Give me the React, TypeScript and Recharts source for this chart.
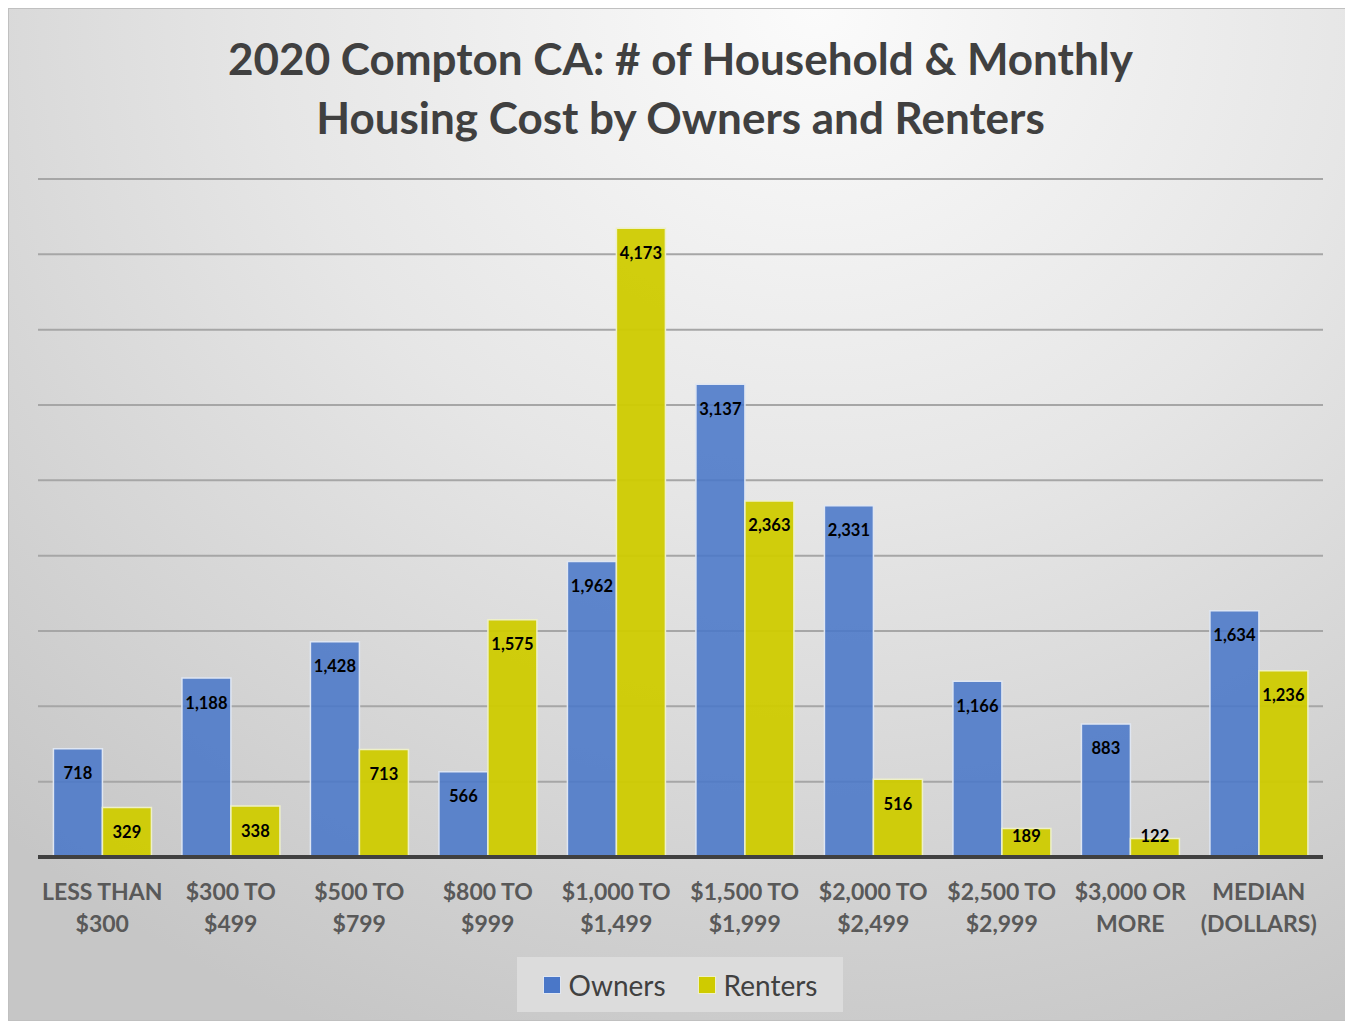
import { BarChart, Bar, XAxis, YAxis, CartesianGrid, LabelList, ReferenceLine } from "recharts";

const categories = [
  "LESS THAN|$300",
  "$300 TO|$499",
  "$500 TO|$799",
  "$800 TO|$999",
  "$1,000 TO|$1,499",
  "$1,500 TO|$1,999",
  "$2,000 TO|$2,499",
  "$2,500 TO|$2,999",
  "$3,000 OR|MORE",
  "MEDIAN|(DOLLARS)",
];
const owners = [718, 1188, 1428, 566, 1962, 3137, 2331, 1166, 883, 1634];
const renters = [329, 338, 713, 1575, 4173, 2363, 516, 189, 122, 1236];
const yTicks = [0, 500, 1000, 1500, 2000, 2500, 3000, 3500, 4000, 4500];

const data = categories.map((c, i) => ({ name: c, owners: owners[i], renters: renters[i] }));

const FONT = "Lato, 'Open Sans', sans-serif";
const OWNER_COLOR = "#4a77c8";
const RENTER_COLOR = "#cfcb00";

// inside-end label, pushed up when the bar is too short to hold it
const ValueLabel = (props: any) => {
  const { x, y, width, height, value } = props;
  const ly = Math.min(y + 24.5, y + height - 21);
  return (
    <text
      x={x + width / 2}
      y={ly}
      textAnchor="middle"
      dominantBaseline="central"
      fontSize={16.5}
      fontWeight="bold"
      fontFamily={FONT}
      fill="#000"
    >
      {value.toLocaleString("en-US")}
    </text>
  );
};

const CategoryTick = (props: any) => {
  const { x, y, payload } = props;
  const lines = String(payload.value).split("|");
  return (
    <g>
      {lines.map((l, i) => (
        <text
          key={i}
          x={x}
          y={y + 26 + i * 32}
          textAnchor="middle"
          dominantBaseline="central"
          fontSize={23}
          fontWeight="bold"
          fontFamily={FONT}
          fill="#595959"
        >
          {l}
        </text>
      ))}
    </g>
  );
};

const App = () => {
  return (
    <div
      style={{
        position: "relative",
        width: 1343,
        height: 1011,
        border: "1px solid #c0c0c0",
        background: "radial-gradient(ellipse 90% 110% at 60% 0%, #fbfbfb 0%, #e6e6e6 45%, #c6c6c6 100%)",
        fontFamily: FONT,
      }}
    >
      <style>{"html,body{overflow:hidden}"}</style>
      <div
        style={{
          position: "absolute",
          top: 20,
          left: 0,
          width: 1343,
          textAlign: "center",
          fontSize: 44,
          fontWeight: "bold",
          color: "#404040",
          lineHeight: "59px",
        }}
      >
        2020 Compton CA: # of Household &amp; Monthly
        <br />
        Housing Cost by Owners and Renters
      </div>
      <BarChart
        width={1343}
        height={1011}
        data={data}
        margin={{ top: 170, right: 29, bottom: 83, left: 29 }}
        barCategoryGap="12%"
        barGap={0}
        style={{ position: "absolute", top: 0, left: 0 }}
      >
        <CartesianGrid vertical={false} stroke="#a6a6a6" strokeWidth={2} />
        <YAxis hide domain={[0, 4500]} ticks={yTicks} />
        <XAxis
          dataKey="name"
          axisLine={false}
          tickLine={false}
          interval={0}
          height={80}
          tick={<CategoryTick />}
        />
        <Bar dataKey="owners" fill={OWNER_COLOR} fillOpacity={0.88} stroke="#dfe6f2" strokeWidth={1.5} isAnimationActive={false}>
          <LabelList dataKey="owners" content={<ValueLabel />} />
        </Bar>
        <Bar dataKey="renters" fill={RENTER_COLOR} fillOpacity={0.95} stroke="#eef0c8" strokeWidth={1.5} isAnimationActive={false}>
          <LabelList dataKey="renters" content={<ValueLabel />} />
        </Bar>
        <ReferenceLine y={0} stroke="#404040" strokeWidth={4} />
      </BarChart>
      <div
        style={{
          position: "absolute",
          left: 508,
          top: 948,
          width: 326,
          height: 55,
          background: "#dcdcdc",
          display: "flex",
          alignItems: "center",
          justifyContent: "center",
          fontSize: 28,
          color: "#404040",
          fontWeight: "normal",
        }}
      >
        <span style={{ display: "inline-block", width: 16, height: 16, background: OWNER_COLOR, border: "1px solid #dfe6f2", marginRight: 8 }} />
        <span style={{ marginRight: 32 }}>Owners</span>
        <span style={{ display: "inline-block", width: 16, height: 16, background: RENTER_COLOR, border: "1px solid #eef0c8", marginRight: 8 }} />
        <span>Renters</span>
      </div>
    </div>
  );
};

export default App;
